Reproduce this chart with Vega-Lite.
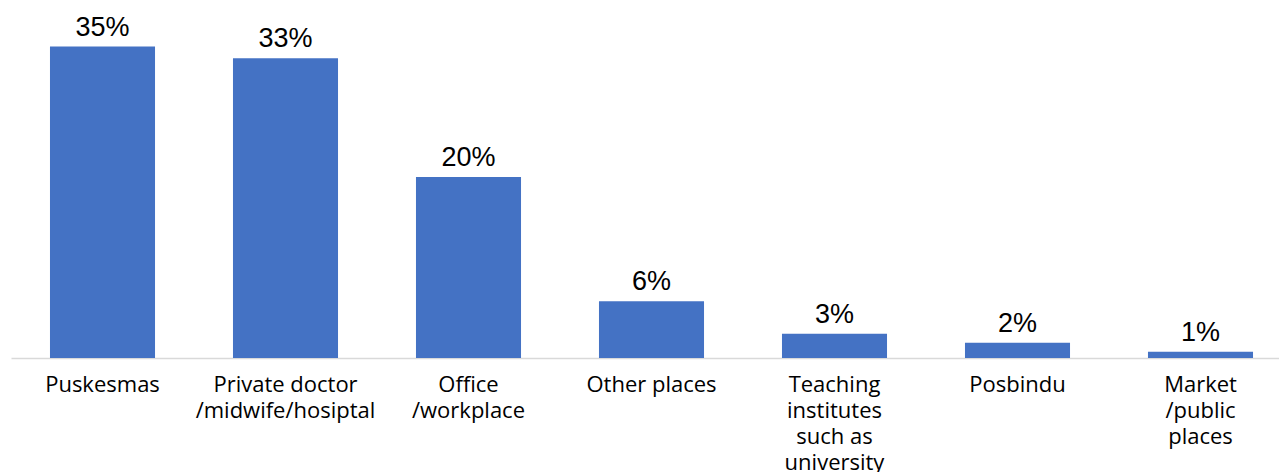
{
  "$schema": "https://vega.github.io/schema/vega-lite/v6.json",
  "width": 1268,
  "height": 358,
  "autosize": {"type": "none"},
  "padding": {"left": 11, "top": 0, "right": 0, "bottom": 114},
  "background": "white",
  "config": {"view": {"stroke": null}},
  "data": {
    "values": [
      {"place": "Puskesmas", "share": 0.346},
      {"place": "Private doctor|/midwife/hosiptal", "share": 0.333},
      {"place": "Office|/workplace", "share": 0.201},
      {"place": "Other places", "share": 0.063},
      {"place": "Teaching|institutes|such as|university", "share": 0.027},
      {"place": "Posbindu", "share": 0.017},
      {"place": "Market|/public|places", "share": 0.007}
    ]
  },
  "encoding": {
    "x": {
      "field": "place",
      "type": "nominal",
      "sort": null,
      "scale": {"range": [0, 1281], "paddingInner": 0.426, "paddingOuter": 0.213},
      "axis": {
        "title": null,
        "labelAngle": 0,
        "ticks": false,
        "domainColor": "#d9d9d9",
        "domainWidth": 1.5,
        "labelFont": "Open Sans",
        "labelFontSize": 22,
        "labelColor": "#000000",
        "labelPadding": 16,
        "labelLineHeight": 26,
        "labelLimit": 400,
        "labelBaseline": "top",
        "labelExpr": "split(datum.label, '|')"
      }
    },
    "y": {
      "field": "share",
      "type": "quantitative",
      "scale": {"domain": [0, 0.3978]},
      "axis": null
    }
  },
  "layer": [
    {"mark": {"type": "bar", "color": "#4472C4"}},
    {
      "mark": {"type": "text", "baseline": "alphabetic", "dy": -11, "font": "Liberation Sans", "fontSize": 27, "color": "#000000"},
      "encoding": {"text": {"field": "share", "format": ".0%"}}
    }
  ]
}
